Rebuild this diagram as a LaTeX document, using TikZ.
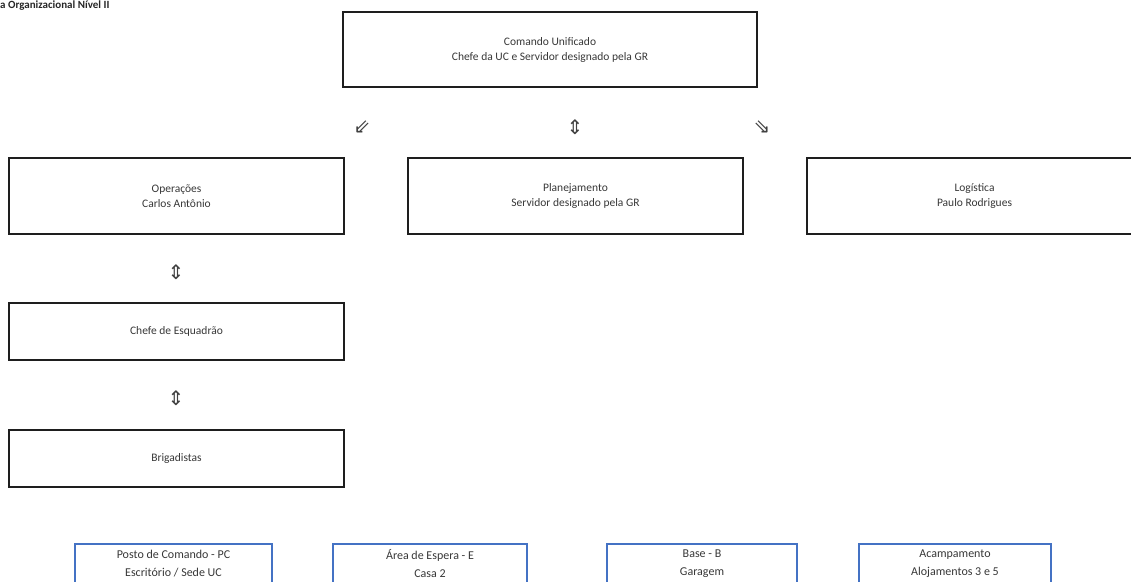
\documentclass[tikz,border=0pt]{standalone}
\usepackage{fontspec}
\setmainfont{Carlito}
\newfontfamily\symfont{DejaVu Sans}
\definecolor{officeblue}{RGB}{68,114,196}
\definecolor{boxline}{RGB}{30,30,30}
\definecolor{txt}{RGB}{55,55,55}
\begin{document}
\begin{tikzpicture}[x=1pt,y=-1pt,
  box/.style={draw=boxline, line width=2pt, text=txt, align=center,
    font=\fontsize{11.5}{15}\selectfont, inner sep=0pt},
  bbox/.style={draw=officeblue, line width=2pt, text=txt, align=center,
    font=\fontsize{12}{18}\selectfont, inner sep=0pt,
    minimum height=40pt},
  arr/.style={font=\symfont\fontsize{20}{20}\selectfont, text=black!75, inner sep=0pt},
  ttl/.style={font=\bfseries\fontsize{11}{12}\selectfont, text=black!85, inner sep=0pt}]
\useasboundingbox (0,0) rectangle (1131,581);

\node[ttl, anchor=west] (title) at (0,6) {a Organizacional Nível II};

\node[box, minimum width=414pt, minimum height=75pt] (cu) at (550,49.5)
  {Comando Unificado\\Chefe da UC e Servidor designado pela GR};

\node[box, minimum width=335pt, minimum height=76pt] (op) at (176.5,196)
  {Operações\\Carlos Antônio};
\node[box, minimum width=335pt, minimum height=76pt] (plan) at (575.5,196)
  {Planejamento\\Servidor designado pela GR};
\node[box, minimum width=335pt, minimum height=76pt] (log) at (974.5,196)
  {Logística\\Paulo Rodrigues};

\node[box, minimum width=335pt, minimum height=57pt] (chefe) at (176.5,331.5)
  {Chefe de Esquadrão};
\node[box, minimum width=335pt, minimum height=57pt] (brig) at (176.5,458.5)
  {Brigadistas};

\node[arr] (a1) at (362,127) {⇙};
\node[arr] (a2) at (575,127) {⇕};
\node[arr] (a3) at (762,127) {⇘};
\node[arr] (a4) at (176,272) {⇕};
\node[arr] (a5) at (176,398) {⇕};

\node[bbox, minimum width=197pt] (pc) at (173.5,564)
  {Posto de Comando - PC\\Escritório / Sede UC};
\node[bbox, minimum width=194pt] (esp) at (430,564)
  {Área de Espera - E\\Casa 2};
\node[bbox, minimum width=190pt] (base) at (702,564)
  {Base - B\\Garagem};
\node[bbox, minimum width=192pt] (acamp) at (955,564)
  {Acampamento\\Alojamentos 3 e 5};
\end{tikzpicture}
\end{document}
